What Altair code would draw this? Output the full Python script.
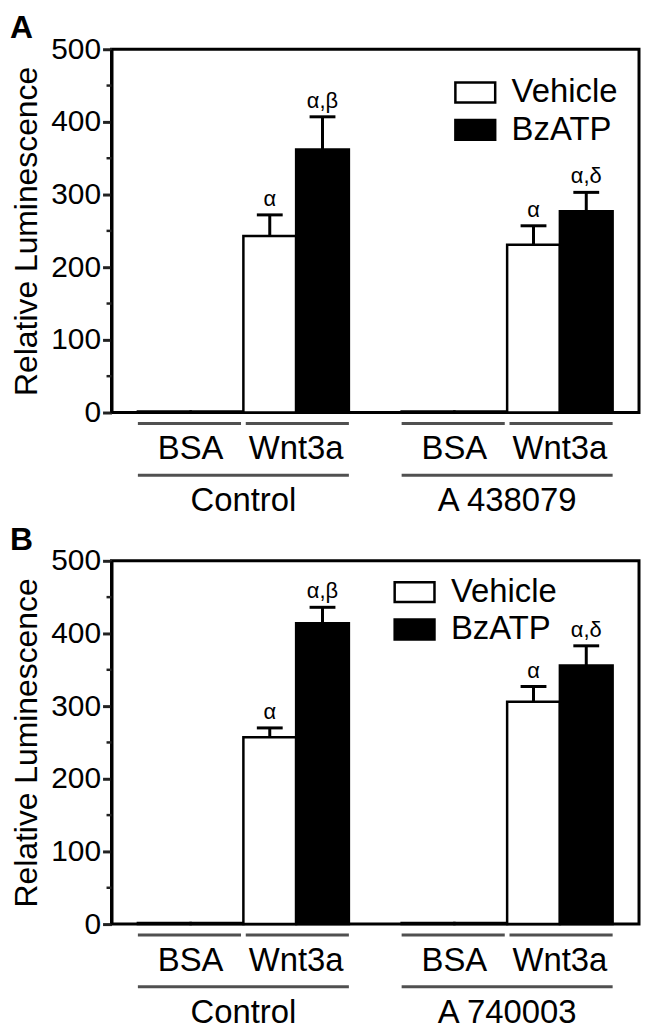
import altair as alt
import pandas as pd

# ---------------- data ----------------
treatments = ["Vehicle", "BzATP"]
stimuli = ["BSA", "Wnt3a"]
groups_a = ["Control", "A 438079"]
groups_b = ["Control", "A 740003"]

# order: group -> stimulus -> treatment
means_a = [1.5, 1.5, 243, 362, 1.5, 1.5, 231, 277]
errs_a = [0, 0, 29, 45, 0, 0, 26, 26]
means_b = [1.5, 1.5, 257, 414, 1.5, 1.5, 306, 356]
errs_b = [0, 0, 13, 22, 0, 0, 21, 27]
sig_labels = ["", "", "α", "α,β", "", "", "α", "α,δ"]

y_ticks = [0, 100, 200, 300, 400, 500]
y_minor = [50, 150, 250, 350, 450]

W, H = 530, 365
FONT = "Liberation Sans"


def panel(letter, groups, means, errs, legend_x, legend_y):
    rows = []
    i = 0
    for gi, g in enumerate(groups):
        for si, s in enumerate(stimuli):
            for ti, t in enumerate(treatments):
                pos = gi * 5 + si * 2 + ti
                rows.append(dict(group=g, stim=s, treat=t, pos=pos,
                                 left=pos - 0.5, right=pos + 0.5,
                                 mean=means[i], err=errs[i], top=means[i] + errs[i],
                                 sig=sig_labels[i],
                                 cap_l=pos - 0.245, cap_r=pos + 0.245))
                i += 1
    df = pd.DataFrame(rows)
    dfe = df[df["err"] > 0]

    sub_rows, grp_rows = [], []
    for gi, g in enumerate(groups):
        for si, s in enumerate(stimuli):
            start = gi * 5 + si * 2 - 0.5
            sub_rows.append(dict(label=s,
                                 x1=start + (0.045 if si == 1 else 0),
                                 x2=start + 2 - (0.045 if si == 0 else 0),
                                 c=start + 1))
        grp_rows.append(dict(label=g, x1=gi * 5 - 0.5, x2=gi * 5 + 3.5, c=gi * 5 + 1.5))
    dsub = pd.DataFrame(sub_rows)
    dgrp = pd.DataFrame(grp_rows)
    dminor = pd.DataFrame({"v": y_minor})
    dletter = pd.DataFrame({"letter": [letter]})

    xs = alt.Scale(domain=[-1, 9], nice=False, zero=False)
    ys = alt.Scale(domain=[0, 500], nice=False)

    leg = alt.Legend(title=None, orient="none", legendX=legend_x,
                     legendY=legend_y, symbolType="M-2,-1H2V1H-2Z",
                     symbolSize=400, symbolStrokeColor="black",
                     symbolStrokeWidth=2.5, labelFontSize=33,
                     labelFont=FONT, labelColor="black",
                     labelOffset=20, rowPadding=3.5, padding=0)

    bars = alt.Chart(df).mark_rect(stroke="black", strokeWidth=2.5).encode(
        x=alt.X("left:Q", scale=xs, axis=None),
        x2="right:Q",
        y=alt.Y("mean:Q", scale=ys, axis=alt.Axis(
            values=y_ticks, grid=False, tickSize=9, tickWidth=3, tickColor="#222",
            domainWidth=3, domainColor="black", labelFontSize=30, labelFont=FONT,
            labelColor="black", labelPadding=2, title="Relative Luminescence",
            titleFont=FONT, titleFontSize=32, titleFontWeight="normal",
            titleColor="black", titlePadding=7)),
        y2=alt.datum(0),
        fill=alt.Fill("treat:N", scale=alt.Scale(domain=treatments, range=["white", "black"]),
                      legend=leg),
    )

    err_v = alt.Chart(dfe).mark_rule(color="black", strokeWidth=3).encode(
        x=alt.X("pos:Q", scale=xs), y=alt.Y("mean:Q", scale=ys), y2="top:Q")
    err_c = alt.Chart(dfe).mark_rule(color="black", strokeWidth=3).encode(
        x=alt.X("cap_l:Q", scale=xs), x2="cap_r:Q", y=alt.Y("top:Q", scale=ys))
    sig = alt.Chart(dfe).mark_text(font=FONT, fontSize=22, dy=-9, baseline="alphabetic",
                                   color="black").encode(
        x=alt.X("pos:Q", scale=xs), y=alt.Y("top:Q", scale=ys), text="sig:N")

    minor = alt.Chart(dminor).mark_rule(color="#222", strokeWidth=2.5).encode(
        y=alt.Y("v:Q", scale=ys), x=alt.value(-5), x2=alt.value(0))

    sub_line = alt.Chart(dsub).mark_rule(color="#505050", strokeWidth=3).encode(
        x=alt.X("x1:Q", scale=xs), x2="x2:Q", y=alt.value(H + 11))
    sub_text = alt.Chart(dsub).mark_text(font=FONT, fontSize=33, baseline="alphabetic",
                                         color="black").encode(
        x=alt.X("c:Q", scale=xs), y=alt.value(H + 47), text="label:N")
    grp_line = alt.Chart(dgrp).mark_rule(color="#505050", strokeWidth=3).encode(
        x=alt.X("x1:Q", scale=xs), x2="x2:Q", y=alt.value(H + 63))
    grp_text = alt.Chart(dgrp).mark_text(font=FONT, fontSize=33, baseline="alphabetic",
                                         color="black").encode(
        x=alt.X("c:Q", scale=xs), y=alt.value(H + 99), text="label:N")

    letter_text = alt.Chart(dletter).mark_text(
        font=FONT, fontSize=32, fontWeight="bold", align="left", baseline="alphabetic",
        color="black").encode(text="letter:N", x=alt.value(-102), y=alt.value(-11))

    return alt.layer(bars, err_v, err_c, sig, minor, sub_line, sub_text, grp_line,
                     grp_text, letter_text).properties(width=W, height=H)


top = panel("A", groups_a, means_a, errs_a, 349, 27)
bottom = panel("B", groups_b, means_b, errs_b, 288, 15)

chart = alt.vconcat(top, bottom, spacing=2).resolve_scale(
    fill="independent").resolve_legend(fill="independent").properties(
    padding={"left": 0, "right": 0, "top": 0, "bottom": 0}
).configure_view(stroke="black", strokeWidth=3)

chart.save("out.html", embed_options={"renderer": "svg", "actions": False})
